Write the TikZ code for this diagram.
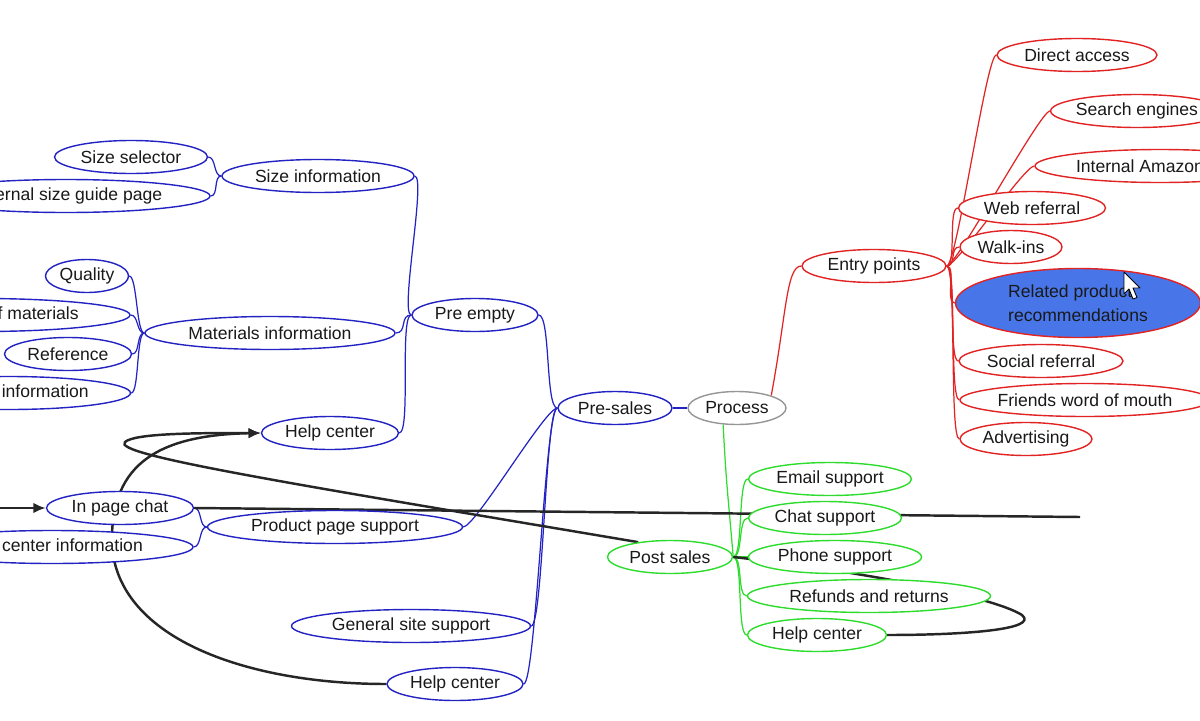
\documentclass[tikz,border=0pt]{standalone}
\usepackage{fontspec}
\setmainfont{Liberation Sans}
\usetikzlibrary{shapes.geometric,arrows.meta,backgrounds}
\definecolor{mapblue}{RGB}{35,35,195}
\definecolor{mapred}{RGB}{225,35,35}
\definecolor{mapgreen}{RGB}{45,220,45}
\definecolor{mapgray}{RGB}{150,150,150}
\definecolor{mapfill}{RGB}{72,118,232}
\definecolor{ink}{RGB}{25,25,25}
\tikzset{
  idea/.style={ellipse, draw, fill=white, line width=0.8pt, inner sep=0pt,
    minimum height=0.66cm, minimum width=#1*0.02cm, text=ink,
    font=\fontsize{10}{13.6}\selectfont},
  bnode/.style={idea=#1, draw=mapblue},
  rnode/.style={idea=#1, draw=mapred},
  gnode/.style={idea=#1, draw=mapgreen},
  bline/.style={draw=mapblue, line width=0.7pt},
  rline/.style={draw=mapred, line width=0.7pt},
  gline/.style={draw=mapgreen, line width=0.7pt},
  scribble/.style={draw=black!85, line width=1.4pt}
}
\begin{document}
\begin{tikzpicture}[x=0.02cm, y=-0.02cm]
  \useasboundingbox (0,0) rectangle (1200,720);

  % pre-sales (left)
  \node[bnode=153] (ss) at (131,157) {Size selector};
  \node[bnode=288] (esg) at (66,196) {External size guide page};
  \node[bnode=192] (si) at (318,176) {Size information};
  \node[bnode=83] (qu) at (87,276) {Quality};
  \node[bnode=296] (com) at (-18,315) {Composition of materials};
  \node[bnode=127] (ref) at (68,354) {Reference};
  \node[bnode=243] (wsh) at (9,393) {Washing information};
  \node[bnode=250] (mi) at (270,333) {Materials information};
  \node[bnode=126] (pe) at (475,315) {Pre empty};
  \node[bnode=137] (hcu) at (330,433) {Help center};
  \node[bnode=147] (ipc) at (120,508) {In page chat};
  \node[bnode=282] (hci) at (52,547) {Help center information};
  \node[bnode=255] (pps) at (335,527) {Product page support};
  \node[bnode=239] (gss) at (411,626) {General site support};
  \node[bnode=136] (hcl) at (455,684) {Help center};
  \node[bnode=114] (psl) at (615,408) {Pre-sales};

  % root
  \node[idea=98, draw=mapgray] (pr) at (737,408) {Process};

  % post sales
  \node[gnode=163] (em) at (830,479) {Email support};
  \node[gnode=153] (cs) at (825,518) {Chat support};
  \node[gnode=125] (pst) at (670,557) {Post sales};
  \node[gnode=173] (ph) at (835,557) {Phone support};
  \node[gnode=243] (rr) at (869,596) {Refunds and returns};
  \node[gnode=139] (hcg) at (817,635) {Help center};

  % entry points
  \node[rnode=144] (ep) at (874,266) {Entry points};
  \node[rnode=160] (da) at (1077,55) {Direct access};
  \node[rnode=168] (se) at (1137,111) {Search engines};
  \node[rnode=250] (ia) at (1160,166) {Internal Amazon links};
  \node[rnode=147] (wr) at (1032,208) {Web referral};
  \node[rnode=102] (wi) at (1011,247) {Walk-ins};
  \node[rnode=245, fill=mapfill, minimum height=69*0.02cm, align=left] (rp) at (1078,303)
    {Related product\\recommendations};
  \node[rnode=164] (sr) at (1041,361) {Social referral};
  \node[rnode=250] (fw) at (1085,400) {Friends word of mouth};
  \node[rnode=132] (ad) at (1026,439) {Advertising};

  \begin{scope}[on background layer]
    % blue branches
    \draw[bline] (psl.east) -- (pr.west);
    \draw[bline] (psl.west) .. controls +(-12,0) and +(12,0) .. (pe.east);
    \draw[bline] (psl.west) .. controls +(-12,0) and +(12,0) .. (pps.east);
    \draw[bline] (psl.west) .. controls +(-12,0) and +(12,0) .. (gss.east);
    \draw[bline] (psl.west) .. controls +(-12,0) and +(12,0) .. (hcl.east);
    \draw[bline] (pe.west) .. controls +(-12,0) and +(12,0) .. (si.east);
    \draw[bline] (pe.west) .. controls +(-12,0) and +(12,0) .. (mi.east);
    \draw[bline] (pe.west) .. controls +(-12,0) and +(12,0) .. (hcu.east);
    \draw[bline] (si.west) .. controls +(-8,0) and +(8,0) .. (ss.east);
    \draw[bline] (si.west) .. controls +(-8,0) and +(8,0) .. (esg.east);
    \draw[bline] (mi.west) .. controls +(-8,0) and +(8,0) .. (qu.east);
    \draw[bline] (mi.west) .. controls +(-8,0) and +(8,0) .. (com.east);
    \draw[bline] (mi.west) .. controls +(-8,0) and +(8,0) .. (ref.east);
    \draw[bline] (mi.west) .. controls +(-8,0) and +(8,0) .. (wsh.east);
    \draw[bline] (pps.west) .. controls +(-8,0) and +(8,0) .. (ipc.east);
    \draw[bline] (pps.west) .. controls +(-8,0) and +(8,0) .. (hci.east);

    % green branches
    \draw[gline] (pr.230) .. controls +(3,60) and +(-5,-60) .. (pst.east);
    \draw[gline] (pst.east) .. controls +(10,0) and +(-10,0) .. (em.west);
    \draw[gline] (pst.east) .. controls +(10,0) and +(-10,0) .. (cs.west);
    \draw[gline] (pst.east) .. controls +(10,0) and +(-10,0) .. (ph.west);
    \draw[gline] (pst.east) .. controls +(10,0) and +(-10,0) .. (rr.west);
    \draw[gline] (pst.east) .. controls +(10,0) and +(-10,0) .. (hcg.west);

    % red branches
    \draw[rline] (pr.20) .. controls +(15,-80) and +(-15,0) .. (ep.west);
    \draw[rline] (ep.east) .. controls +(10,0) and +(-10,0) .. (da.west);
    \draw[rline] (ep.east) .. controls +(10,0) and +(-10,0) .. (se.west);
    \draw[rline] (ep.east) .. controls +(10,0) and +(-10,0) .. (ia.west);
    \draw[rline] (ep.east) .. controls +(10,0) and +(-10,0) .. (wr.west);
    \draw[rline] (ep.east) .. controls +(10,0) and +(-10,0) .. (wi.west);
    \draw[rline] (ep.east) .. controls +(10,0) and +(-10,0) .. (rp.west);
    \draw[rline] (ep.east) .. controls +(10,0) and +(-10,0) .. (sr.west);
    \draw[rline] (ep.east) .. controls +(10,0) and +(-10,0) .. (fw.west);
    \draw[rline] (ep.east) .. controls +(10,0) and +(-10,0) .. (ad.west);

    % hand drawn strokes
    \coordinate (chatIn) at (-5,508);
    \coordinate (chatEnd) at (1080,517);
    \draw[scribble, -{Latex[length=7pt,width=6pt]}] (chatIn) -- (ipc.west);
    \draw[scribble] (ipc.east) -- (chatEnd);
    \draw[scribble, -{Latex[length=7pt,width=6pt]}] (hcl.west)
      .. controls (250,684) and (118,640) .. (112,545)
      .. controls (110,470) and (150,435) .. (hcu.west);
    \draw[scribble, -{Latex[length=7pt,width=6pt]}] (pst.155)
      .. controls (300,485) and (110,455) .. (125,442)
      .. controls (135,433) and (200,433) .. (hcu.west);
    \draw[scribble] (pst.east) .. controls (850,570) and (990,595) .. (1022,615)
      .. controls (1040,630) and (960,635) .. (hcg.east);
  \end{scope}

  % mouse pointer
  \draw[fill=white, line width=0.5pt, line join=round] (1124,272) -- (1124,294) -- (1129,289)
    -- (1133,299) -- (1137,297.5) -- (1133,288) -- (1140,288) -- cycle;
\end{tikzpicture}
\end{document}
